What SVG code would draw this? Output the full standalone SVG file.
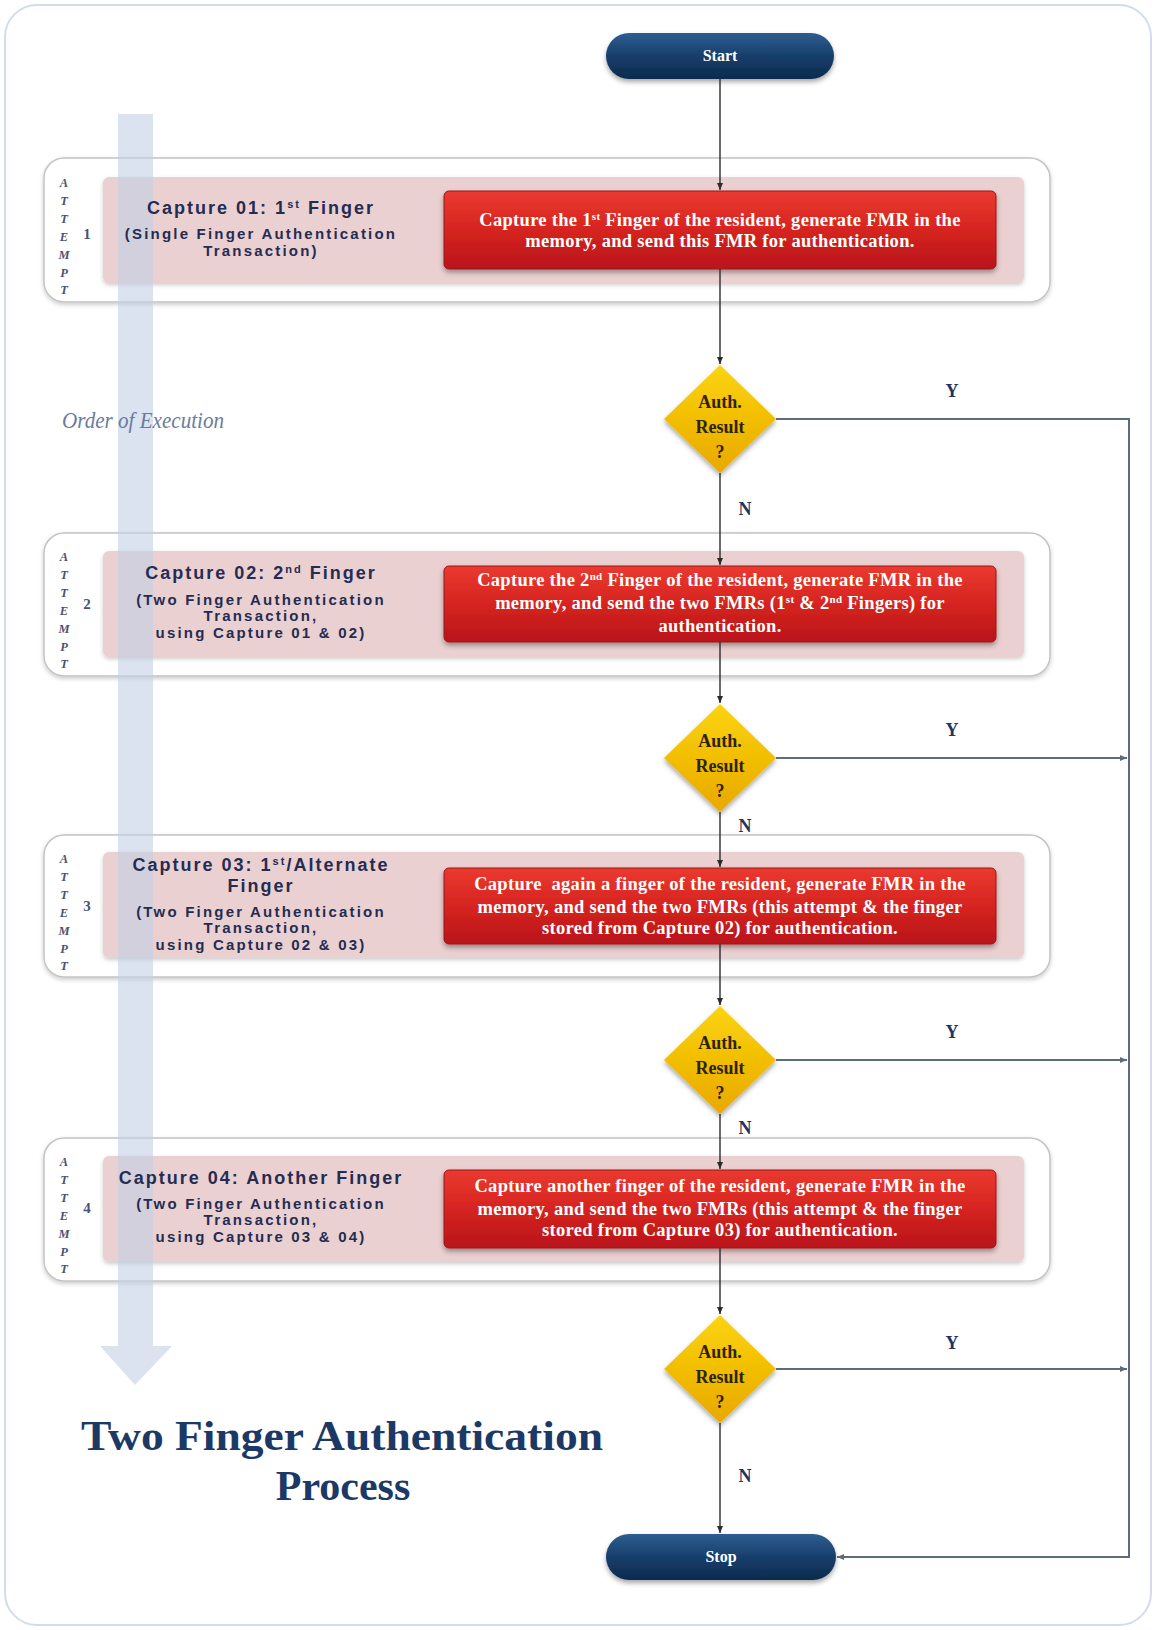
<svg xmlns="http://www.w3.org/2000/svg" width="1156" height="1630" viewBox="0 0 1156 1630">
<defs>
<linearGradient id="gRed" x1="0" y1="0" x2="0" y2="1">
<stop offset="0" stop-color="#ea3a30"/><stop offset="0.5" stop-color="#d62420"/><stop offset="1" stop-color="#b8141a"/>
</linearGradient>
<linearGradient id="gNavy" x1="0" y1="0" x2="0" y2="1">
<stop offset="0" stop-color="#2e5d90"/><stop offset="0.5" stop-color="#173f6c"/><stop offset="1" stop-color="#0c2a4e"/>
</linearGradient>
<linearGradient id="gGold" x1="0" y1="0" x2="0" y2="1">
<stop offset="0" stop-color="#fbd40a"/><stop offset="1" stop-color="#e9a800"/>
</linearGradient>
<filter id="sh" x="-10%" y="-20%" width="120%" height="150%">
<feDropShadow dx="0" dy="3" stdDeviation="2.5" flood-color="#000" flood-opacity="0.35"/>
</filter>
<filter id="shl" x="-5%" y="-10%" width="110%" height="130%">
<feDropShadow dx="0" dy="2" stdDeviation="2" flood-color="#000" flood-opacity="0.2"/>
</filter>
<marker id="ah" markerWidth="8" markerHeight="8" refX="7" refY="4" orient="auto" markerUnits="userSpaceOnUse">
<path d="M0,1 L7,4 L0,7 Z" fill="#2b2b2b"/>
</marker>
<marker id="ahg" markerWidth="8" markerHeight="8" refX="7" refY="4" orient="auto" markerUnits="userSpaceOnUse">
<path d="M0,1 L7,4 L0,7 Z" fill="#5d6b7a"/>
</marker>
<style>
.frame{fill:#fff;stroke:#d3dcec;stroke-width:2}
.att{fill:#fff;stroke:#c4c4c4;stroke-width:1.5;filter:url(#shl)}
.pink{fill:#ead0d0;filter:url(#shl)}
.red{fill:url(#gRed);stroke:#a01218;stroke-width:1;filter:url(#sh)}
.pill{fill:url(#gNavy);filter:url(#sh)}
.dia{fill:url(#gGold);filter:url(#sh)}
.rt{font-family:"Liberation Serif",serif;font-weight:bold;font-size:18.5px;letter-spacing:0.3px;fill:#fff;text-anchor:middle}
.pt{font-family:"Liberation Serif",serif;font-weight:bold;font-size:16px;fill:#fff;text-anchor:middle}
.dt{font-family:"Liberation Serif",serif;font-weight:bold;font-size:18px;fill:#2e2200;text-anchor:middle}
.lh{font-family:"Liberation Sans",sans-serif;font-weight:bold;font-size:18px;fill:#242c52;text-anchor:middle;letter-spacing:2px}
.ls{font-family:"Liberation Sans",sans-serif;font-weight:bold;font-size:15px;fill:#242c52;text-anchor:middle;letter-spacing:2.2px}
.av{font-family:"Liberation Serif",serif;font-style:italic;font-weight:bold;font-size:12.5px;fill:#4a5274;text-anchor:middle}
.an{font-family:"Liberation Serif",serif;font-weight:bold;font-size:15px;fill:#4a5274;text-anchor:middle}
.yn{font-family:"Liberation Serif",serif;font-weight:bold;font-size:18px;fill:#1f3560;text-anchor:middle}
.main{stroke:#2b2b2b;stroke-width:1.4;fill:none}
.side{stroke:#5d6b7a;stroke-width:2;fill:none}
.title{font-family:"Liberation Serif",serif;font-weight:bold;font-size:42px;fill:#1c3966;text-anchor:middle}
.sup{font-size:11px}
</style>
</defs>

<rect class="frame" x="5" y="5" width="1146" height="1620" rx="32"/>

<!-- Attempt boxes -->
<g id="attempt1">
<rect class="att" x="44" y="158" width="1006" height="144" rx="20"/>
<rect class="pink" x="103" y="177" width="921" height="106" rx="6"/>
</g>
<g id="attempt2">
<rect class="att" x="44" y="533" width="1006" height="143" rx="20"/>
<rect class="pink" x="103" y="551" width="921" height="106" rx="6"/>
</g>
<g id="attempt3">
<rect class="att" x="44" y="835" width="1006" height="142" rx="20"/>
<rect class="pink" x="103" y="852" width="921" height="106" rx="6"/>
</g>
<g id="attempt4">
<rect class="att" x="44" y="1138" width="1006" height="143" rx="20"/>
<rect class="pink" x="103" y="1156" width="921" height="106" rx="6"/>
</g>

<!-- Order of execution arrow -->
<g id="order">
<path d="M118,114 H153 V1346 H172 L135,1385 L100,1346 H118 Z" fill="#c3d0e6" fill-opacity="0.6"/>
<text x="143" y="428" font-family="Liberation Serif, serif" font-style="italic" font-size="23" fill="#6a7ba0" text-anchor="middle" textLength="162" lengthAdjust="spacingAndGlyphs">Order of Execution</text>
</g>

<!-- Attempt labels -->
<g id="label1">
<g class="av"><text x="64" y="187">A</text><text x="64" y="205">T</text><text x="64" y="223">T</text><text x="64" y="241">E</text><text x="64" y="259">M</text><text x="64" y="277">P</text><text x="64" y="294">T</text></g>
<text class="an" x="87" y="239">1</text>
<text class="lh" x="261" y="214">Capture 01: 1<tspan class="sup" dy="-6">st</tspan><tspan dy="6"> Finger</tspan></text>
<text class="ls" x="261" y="239">(Single Finger Authentication</text>
<text class="ls" x="261" y="256">Transaction)</text>
</g>
<g id="label2">
<g class="av"><text x="64" y="561">A</text><text x="64" y="579">T</text><text x="64" y="597">T</text><text x="64" y="615">E</text><text x="64" y="633">M</text><text x="64" y="651">P</text><text x="64" y="668">T</text></g>
<text class="an" x="87" y="609">2</text>
<text class="lh" x="261" y="579">Capture 02: 2<tspan class="sup" dy="-6">nd</tspan><tspan dy="6"> Finger</tspan></text>
<text class="ls" x="261" y="605">(Two Finger Authentication</text>
<text class="ls" x="261" y="621">Transaction,</text>
<text class="ls" x="261" y="638">using Capture 01 &amp; 02)</text>
</g>
<g id="label3">
<g class="av"><text x="64" y="863">A</text><text x="64" y="881">T</text><text x="64" y="899">T</text><text x="64" y="917">E</text><text x="64" y="935">M</text><text x="64" y="953">P</text><text x="64" y="970">T</text></g>
<text class="an" x="87" y="911">3</text>
<text class="lh" x="261" y="871">Capture 03: 1<tspan class="sup" dy="-6">st</tspan><tspan dy="6">/Alternate</tspan></text>
<text class="lh" x="261" y="892">Finger</text>
<text class="ls" x="261" y="917">(Two Finger Authentication</text>
<text class="ls" x="261" y="933">Transaction,</text>
<text class="ls" x="261" y="950">using Capture 02 &amp; 03)</text>
</g>
<g id="label4">
<g class="av"><text x="64" y="1166">A</text><text x="64" y="1184">T</text><text x="64" y="1202">T</text><text x="64" y="1220">E</text><text x="64" y="1238">M</text><text x="64" y="1256">P</text><text x="64" y="1273">T</text></g>
<text class="an" x="87" y="1213">4</text>
<text class="lh" x="261" y="1184">Capture 04: Another Finger</text>
<text class="ls" x="261" y="1209">(Two Finger Authentication</text>
<text class="ls" x="261" y="1225">Transaction,</text>
<text class="ls" x="261" y="1242">using Capture 03 &amp; 04)</text>
</g>

<!-- Capture process boxes -->
<g id="capture1">
<rect class="red" x="444" y="191" width="552" height="78" rx="5"/>
<text class="rt" x="720" y="226">Capture the 1<tspan class="sup" dy="-6">st</tspan><tspan dy="6"> Finger of the resident, generate FMR in the</tspan></text>
<text class="rt" x="720" y="247">memory, and send this FMR for authentication.</text>
</g>
<g id="capture2">
<rect class="red" x="444" y="566" width="552" height="76" rx="5"/>
<text class="rt" x="720" y="586">Capture the 2<tspan class="sup" dy="-6">nd</tspan><tspan dy="6"> Finger of the resident, generate FMR in the</tspan></text>
<text class="rt" x="720" y="609">memory, and send the two FMRs (1<tspan class="sup" dy="-6">st</tspan><tspan dy="6"> &amp; 2</tspan><tspan class="sup" dy="-6">nd</tspan><tspan dy="6"> Fingers) for</tspan></text>
<text class="rt" x="720" y="632">authentication.</text>
</g>
<g id="capture3">
<rect class="red" x="444" y="868" width="552" height="76" rx="5"/>
<text class="rt" x="720" y="890" xml:space="preserve">Capture  again a finger of the resident, generate FMR in the</text>
<text class="rt" x="720" y="913">memory, and send the two FMRs (this attempt &amp; the finger</text>
<text class="rt" x="720" y="934">stored from Capture 02) for authentication.</text>
</g>
<g id="capture4">
<rect class="red" x="444" y="1170" width="552" height="78" rx="5"/>
<text class="rt" x="720" y="1192">Capture another finger of the resident, generate FMR in the</text>
<text class="rt" x="720" y="1215">memory, and send the two FMRs (this attempt &amp; the finger</text>
<text class="rt" x="720" y="1236">stored from Capture 03) for authentication.</text>
</g>

<!-- Start / Stop -->
<g id="start">
<rect class="pill" x="606" y="33" width="228" height="46" rx="23"/>
<text class="pt" x="720" y="61">Start</text>
</g>
<g id="stop">
<rect class="pill" x="606" y="1534" width="230" height="46" rx="23"/>
<text class="pt" x="721" y="1562">Stop</text>
</g>

<!-- Decisions -->
<g id="decision1">
<path class="dia" d="M720,365 L776,419 L720,473 L664,419 Z"/>
<text class="dt" x="720" y="408">Auth.</text><text class="dt" x="720" y="433">Result</text><text class="dt" x="720" y="458">?</text>
</g>
<g id="decision2">
<path class="dia" d="M720,704 L776,758 L720,812 L664,758 Z"/>
<text class="dt" x="720" y="747">Auth.</text><text class="dt" x="720" y="772">Result</text><text class="dt" x="720" y="797">?</text>
</g>
<g id="decision3">
<path class="dia" d="M720,1006 L776,1060 L720,1114 L664,1060 Z"/>
<text class="dt" x="720" y="1049">Auth.</text><text class="dt" x="720" y="1074">Result</text><text class="dt" x="720" y="1099">?</text>
</g>
<g id="decision4">
<path class="dia" d="M720,1315 L776,1369 L720,1423 L664,1369 Z"/>
<text class="dt" x="720" y="1358">Auth.</text><text class="dt" x="720" y="1383">Result</text><text class="dt" x="720" y="1408">?</text>
</g>

<!-- Connectors -->
<g id="connectors">
<path class="main" d="M720,79 V190" marker-end="url(#ah)"/>
<path class="main" d="M720,269 V364" marker-end="url(#ah)"/>
<path class="main" d="M720,473 V565" marker-end="url(#ah)"/>
<path class="main" d="M720,642 V703" marker-end="url(#ah)"/>
<path class="main" d="M720,812 V867" marker-end="url(#ah)"/>
<path class="main" d="M720,944 V1005" marker-end="url(#ah)"/>
<path class="main" d="M720,1114 V1169" marker-end="url(#ah)"/>
<path class="main" d="M720,1248 V1314" marker-end="url(#ah)"/>
<path class="main" d="M720,1423 V1533" marker-end="url(#ah)"/>
<path class="side" d="M776,419 H1129 V1557 H837" marker-end="url(#ahg)"/>
<path class="side" d="M776,758 H1127" marker-end="url(#ahg)"/>
<path class="side" d="M776,1060 H1127" marker-end="url(#ahg)"/>
<path class="side" d="M776,1369 H1127" marker-end="url(#ahg)"/>
<text class="yn" x="952" y="397">Y</text>
<text class="yn" x="952" y="736">Y</text>
<text class="yn" x="952" y="1038">Y</text>
<text class="yn" x="952" y="1349">Y</text>
<text class="yn" x="745" y="515">N</text>
<text class="yn" x="745" y="832">N</text>
<text class="yn" x="745" y="1134">N</text>
<text class="yn" x="745" y="1482">N</text>
</g>

<!-- Title -->
<g id="title">
<text class="title" x="342" y="1450" textLength="522" lengthAdjust="spacingAndGlyphs">Two Finger Authentication</text>
<text class="title" x="343" y="1500">Process</text>
</g>
</svg>
